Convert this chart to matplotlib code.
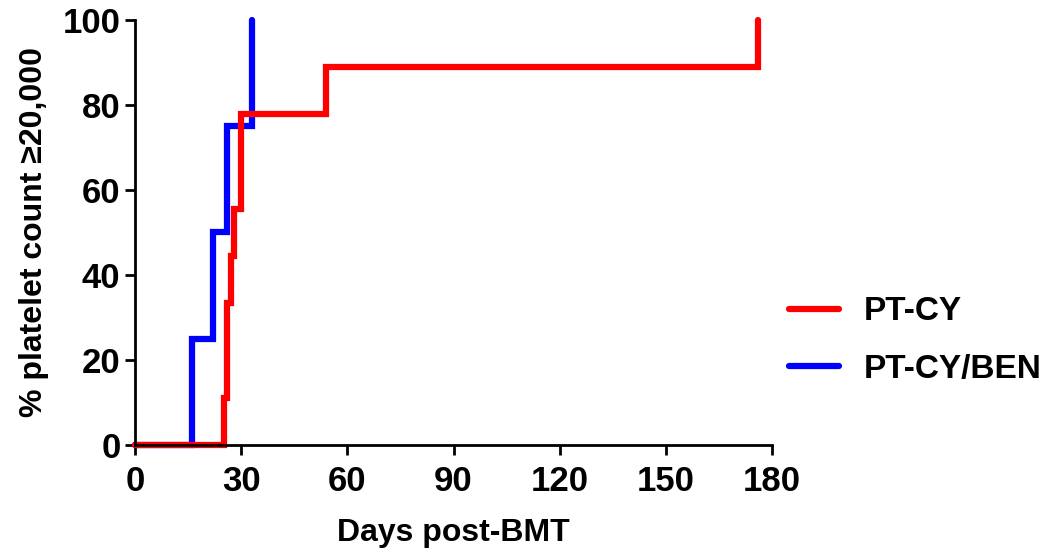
import matplotlib.pyplot as plt

## data ##
days_cy = [0, 25, 26, 27, 28, 30, 54, 176]
pct_cy = [0, 11.1, 33.3, 44.4, 55.6, 77.8, 88.9, 100]

days_ben = [0, 16, 22, 26, 33]
pct_ben = [0, 25, 50, 75, 100]

xticks = [0, 30, 60, 90, 120, 150, 180]
yticks = [0, 20, 40, 60, 80, 100]

plt.rcParams['font.family'] = ['Liberation Sans', 'DejaVu Sans']
plt.rcParams['font.weight'] = 'bold'

fig = plt.figure(figsize=(10.5, 5.54), dpi=100)
ax = fig.add_axes([0.1286, 0.1968, 0.6067, 0.7671])

style = dict(where='post', lw=4.5, solid_capstyle='round', solid_joinstyle='miter', clip_on=False)
ax.step(days_ben, pct_ben, color='#0000ff', label='PT-CY/BEN', **style)
ax.step(days_cy, pct_cy, color='#ff0000', label='PT-CY', **style)

ax.set_xlim(0, 180)
ax.set_ylim(0, 100)
ax.set_xticks(xticks)
ax.set_yticks(yticks)
ax.tick_params(labelsize=25, width=2, length=7.5)
ax.tick_params(axis='x', pad=7)
ax.tick_params(axis='y', pad=3)
for lab in ax.get_xticklabels() + ax.get_yticklabels():
    lab.set_fontweight('bold')

for s in ['top', 'right']:
    ax.spines[s].set_visible(False)
for s in ['left', 'bottom']:
    ax.spines[s].set_linewidth(2)

ax.set_xlabel('Days post-BMT', fontsize=23, fontweight='bold', labelpad=14)
ax.set_ylabel('% platelet count \u226520,000', fontsize=23, fontweight='bold', labelpad=10)

handles, labels = ax.get_legend_handles_labels()
leg = fig.legend(handles[::-1], labels[::-1], loc='center left', bbox_to_anchor=(0.723, 0.385),
                 frameon=False, fontsize=24, handlelength=1.5, handletextpad=0.75,
                 labelspacing=0.8)
for t in leg.get_texts():
    t.set_fontweight('bold')

fig.savefig('out.png', dpi=100)
